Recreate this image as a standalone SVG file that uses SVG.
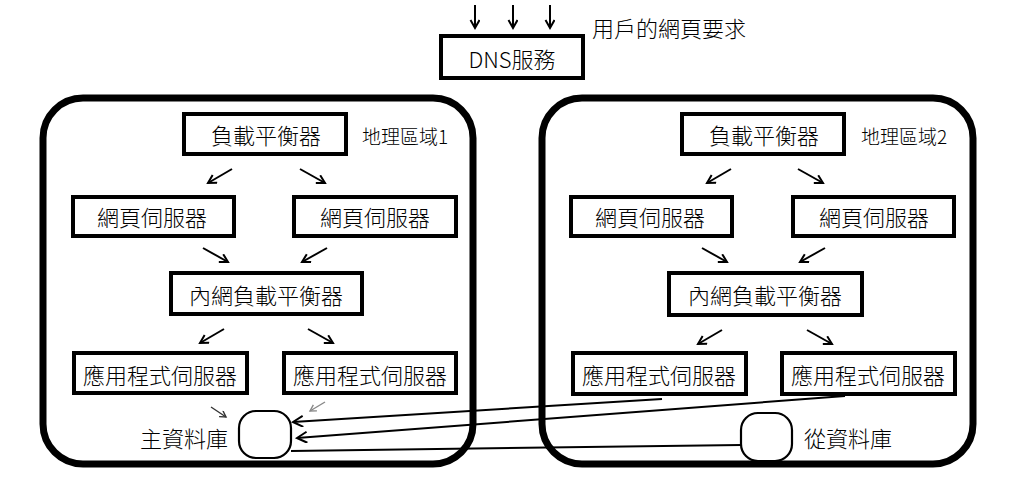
<svg xmlns="http://www.w3.org/2000/svg" width="1024" height="477" viewBox="0 0 1024 477">
<style>
  text { font-family: "Noto Sans CJK TC", "Noto Sans", sans-serif; fill: #000; font-weight: 300; }
  .t { font-size: 22px; text-anchor: middle; dominant-baseline: central; }
  .lbl { font-size: 19px; dominant-baseline: central; }
  .box { fill: #fff; stroke: #000; stroke-width: 4; }
  .region { fill: #fff; stroke: #000; stroke-width: 7; }
  .db { fill: #fff; stroke: #000; stroke-width: 2.2; }
  .arr { stroke: #000; stroke-width: 2; fill: none; marker-end: url(#head); }
  .arrd { stroke: #000; stroke-width: 2; fill: none; marker-end: url(#headd); }
  .g1 { stroke: #333; stroke-width: 1.4; fill: none; marker-end: url(#headg1); }
  .g2 { stroke: #888; stroke-width: 1.4; fill: none; marker-end: url(#headg2); }
  .long { stroke: #000; stroke-width: 2; fill: none; }
</style>
<defs>
  <marker id="head" markerUnits="userSpaceOnUse" markerWidth="12" markerHeight="12" refX="9" refY="5" orient="auto">
    <path d="M1,0.5 L9,5 L1,9.5" fill="none" stroke="#000" stroke-width="2"/>
  </marker>
  <marker id="headd" markerUnits="userSpaceOnUse" markerWidth="14" markerHeight="14" refX="11" refY="6" orient="auto">
    <path d="M1,0.5 L11,6 L1,11.5" fill="none" stroke="#000" stroke-width="2"/>
  </marker>
  <marker id="headg1" markerUnits="userSpaceOnUse" markerWidth="10" markerHeight="10" refX="7" refY="4" orient="auto">
    <path d="M1,0.5 L7,4 L1,7.5" fill="none" stroke="#333" stroke-width="1.4"/>
  </marker>
  <marker id="headg2" markerUnits="userSpaceOnUse" markerWidth="10" markerHeight="10" refX="7" refY="4" orient="auto">
    <path d="M1,0.5 L7,4 L1,7.5" fill="none" stroke="#888" stroke-width="1.4"/>
  </marker>
</defs>

<g id="region1">
  <rect class="region" x="43" y="98" width="430" height="366" rx="40"/>
  <text class="lbl" x="362" y="135">地理區域1</text>
</g>
<g id="region2">
  <rect class="region" x="542" y="98" width="431" height="366" rx="40"/>
  <text class="lbl" x="861" y="135">地理區域2</text>
</g>

<g id="users">
  <text x="592" y="27" style="font-size:22px;dominant-baseline:central">用戶的網頁要求</text>
</g>
<g id="dns">
  <rect class="box" x="441" y="36" width="142" height="42"/>
  <text class="t" x="512" y="58">DNS服務</text>
</g>

<g id="lb1">
  <rect class="box" x="184" y="114" width="162" height="40"/>
  <text class="t" x="266" y="134">負載平衡器</text>
</g>
<g id="web1a">
  <rect class="box" x="73" y="197" width="161" height="39"/>
  <text class="t" x="152" y="216">網頁伺服器</text>
</g>
<g id="web1b">
  <rect class="box" x="294" y="197" width="162" height="39"/>
  <text class="t" x="375" y="216">網頁伺服器</text>
</g>
<g id="ilb1">
  <rect class="box" x="171" y="273" width="191" height="41"/>
  <text class="t" x="266" y="294">內網負載平衡器</text>
</g>
<g id="app1a">
  <rect class="box" x="74" y="353" width="173" height="40"/>
  <text class="t" x="160" y="374">應用程式伺服器</text>
</g>
<g id="app1b">
  <rect class="box" x="284" y="353" width="172" height="40"/>
  <text class="t" x="370" y="374">應用程式伺服器</text>
</g>
<g id="db1">
  <rect class="db" x="239" y="411" width="52" height="47" rx="17"/>
  <text class="t" x="184" y="437">主資料庫</text>
</g>

<g id="lb2">
  <rect class="box" x="682" y="114" width="162" height="40"/>
  <text class="t" x="764" y="134">負載平衡器</text>
</g>
<g id="web2a">
  <rect class="box" x="571" y="197" width="161" height="39"/>
  <text class="t" x="650" y="216">網頁伺服器</text>
</g>
<g id="web2b">
  <rect class="box" x="793" y="197" width="161" height="39"/>
  <text class="t" x="874" y="216">網頁伺服器</text>
</g>
<g id="ilb2">
  <rect class="box" x="669" y="273" width="193" height="42"/>
  <text class="t" x="765" y="294">內網負載平衡器</text>
</g>
<g id="app2a">
  <rect class="box" x="573" y="353" width="173" height="41"/>
  <text class="t" x="659" y="374">應用程式伺服器</text>
</g>
<g id="app2b">
  <rect class="box" x="782" y="353" width="173" height="41"/>
  <text class="t" x="868" y="374">應用程式伺服器</text>
</g>
<g id="db2">
  <rect class="db" x="741" y="413" width="51" height="48" rx="17"/>
  <text class="t" x="848" y="437">從資料庫</text>
</g>

<g id="connectors">
  <line class="arr" x1="475" y1="5" x2="475" y2="28"/>
  <line class="arr" x1="513" y1="5" x2="513" y2="28"/>
  <line class="arr" x1="550" y1="5" x2="550" y2="28"/>

  <line class="arr" x1="232" y1="169" x2="208" y2="183"/>
  <line class="arr" x1="300" y1="169" x2="325" y2="183"/>
  <line class="arr" x1="203" y1="248" x2="228" y2="262"/>
  <line class="arr" x1="327" y1="248" x2="302" y2="262"/>
  <line class="arr" x1="224" y1="329" x2="200" y2="343"/>
  <line class="arr" x1="308" y1="329" x2="333" y2="343"/>
  <line class="g1" x1="211" y1="407" x2="226" y2="417"/>
  <line class="g2" x1="325" y1="402" x2="310" y2="411"/>

  <line class="arr" x1="731" y1="169" x2="707" y2="183"/>
  <line class="arr" x1="798" y1="169" x2="823" y2="183"/>
  <line class="arr" x1="702" y1="248" x2="727" y2="262"/>
  <line class="arr" x1="825" y1="248" x2="800" y2="262"/>
  <line class="arr" x1="722" y1="330" x2="698" y2="344"/>
  <line class="arr" x1="807" y1="330" x2="832" y2="344"/>

  <line class="arrd" x1="662" y1="399" x2="293" y2="422"/>
  <line class="arrd" x1="845" y1="396" x2="297" y2="438"/>
  <line class="long" x1="741" y1="445" x2="291" y2="451"/>
</g>
</svg>
